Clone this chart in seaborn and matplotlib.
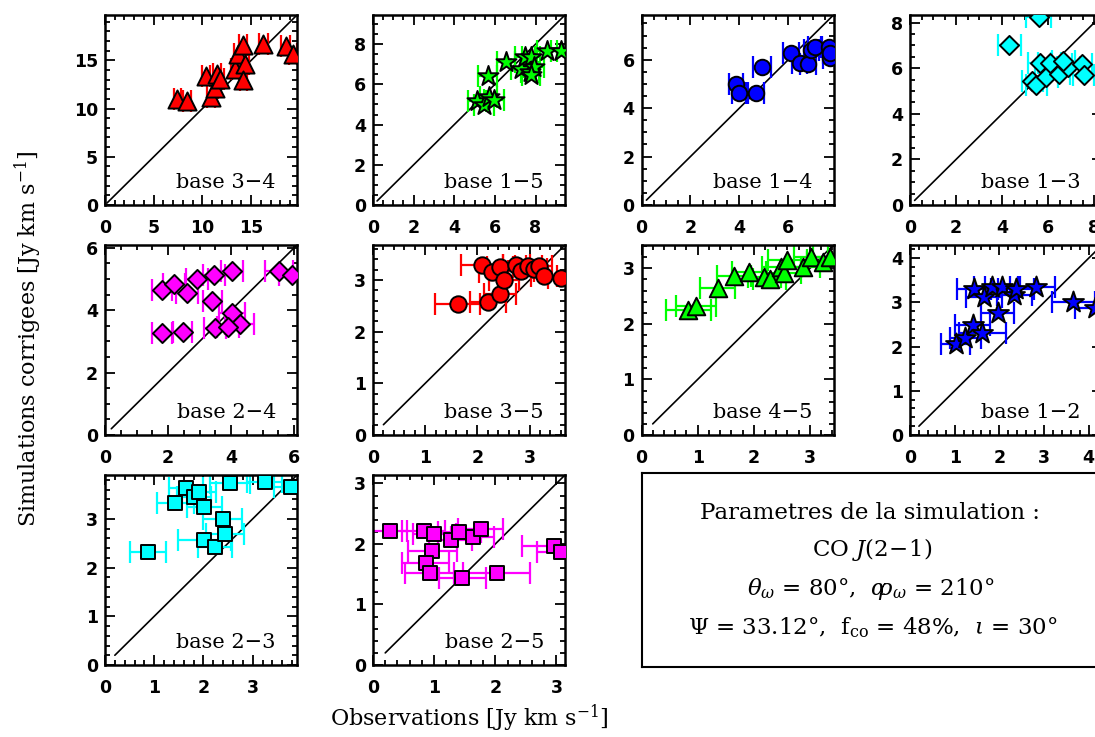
import matplotlib
matplotlib.use("Agg")
import matplotlib.pyplot as plt
import numpy as np
import pandas as pd
import seaborn as sns

# ---------------- data ----------------
# base 3-4
obs_34 = [7.42, 8.38, 10.33, 10.84, 11.28, 11.52, 11.80, 13.33, 13.60, 14.12, 14.36, 14.19, 16.24, 18.53, 19.30]
sim_34 = [10.94, 10.77, 13.35, 11.15, 12.08, 13.56, 13.04, 14.08, 15.70, 16.56, 14.67, 12.94, 16.74, 16.50, 15.70]
err_34 = [0.35, 0.40, 0.40, 0.40, 0.35, 0.40, 0.40, 0.40, 0.35, 0.40, 0.40, 0.35, 0.45, 0.45, 0.45]
# base 1-5
obs_15 = [5.12, 5.45, 5.64, 5.69, 5.94, 6.55, 7.30, 7.48, 7.76, 7.72, 7.92, 8.55, 9.24, 7.76]
sim_15 = [5.16, 4.98, 6.44, 5.36, 5.20, 7.13, 6.77, 7.34, 7.37, 6.60, 6.85, 7.67, 7.67, 6.46]
err_15 = [0.45, 0.50, 0.45, 0.40, 0.50, 0.45, 0.50, 0.50, 0.45, 0.45, 0.50, 0.50, 0.50, 0.45]
# base 1-4
obs_14 = [3.86, 3.99, 4.68, 4.92, 6.10, 6.47, 6.82, 6.95, 7.09, 7.67, 7.71, 7.71]
sim_14 = [5.00, 4.64, 4.62, 5.72, 6.27, 5.85, 5.83, 6.40, 6.54, 6.54, 6.06, 6.27]
err_14 = [0.28, 0.30, 0.32, 0.36, 0.32, 0.30, 0.32, 0.30, 0.30, 0.32, 0.30, 0.30]
# base 1-3
obs_13 = [4.31, 5.58, 5.31, 5.63, 5.48, 5.92, 6.07, 6.48, 6.87, 7.46, 7.53, 6.65]
sim_13 = [7.02, 8.26, 5.45, 6.24, 5.26, 5.63, 6.21, 5.75, 6.07, 6.17, 5.70, 6.30]
err_13 = [0.50, 0.55, 0.45, 0.50, 0.45, 0.50, 0.50, 0.45, 0.50, 0.45, 0.45, 0.50]
# base 2-4
obs_24 = [1.82, 2.19, 2.59, 2.92, 3.47, 3.40, 4.03, 1.82, 2.46, 3.49, 4.03, 4.27, 3.90, 5.52, 5.93]
sim_24 = [4.65, 4.83, 4.54, 4.99, 5.13, 4.29, 5.27, 3.28, 3.31, 3.42, 3.90, 3.56, 3.45, 5.27, 5.13]
err_24 = [0.32, 0.35, 0.35, 0.35, 0.35, 0.30, 0.35, 0.32, 0.30, 0.35, 0.40, 0.45, 0.35, 0.44, 0.40]
# base 3-5
obs_35 = [1.62, 2.09, 2.20, 2.29, 2.44, 2.44, 2.51, 2.75, 2.83, 2.98, 3.09, 3.19, 3.28, 3.61]
sim_35 = [2.53, 3.29, 2.58, 3.16, 3.26, 2.74, 3.00, 3.30, 3.18, 3.28, 3.22, 3.27, 3.08, 3.04]
err_35 = [0.44, 0.40, 0.35, 0.25, 0.25, 0.31, 0.28, 0.25, 0.25, 0.25, 0.25, 0.25, 0.25, 0.25]
# base 4-5
obs_45 = [0.83, 0.97, 1.36, 1.65, 1.92, 2.19, 2.28, 2.49, 2.54, 2.60, 2.88, 3.02, 3.24, 3.36]
sim_45 = [2.25, 2.33, 2.65, 2.87, 2.93, 2.85, 2.81, 3.02, 2.91, 3.15, 3.02, 3.20, 3.11, 3.20]
err_45 = [0.40, 0.36, 0.31, 0.30, 0.30, 0.30, 0.30, 0.35, 0.30, 0.35, 0.30, 0.30, 0.30, 0.30]
# base 1-2
obs_12 = [1.02, 1.24, 1.40, 1.62, 1.43, 1.66, 1.83, 1.96, 2.07, 2.34, 2.38, 2.83, 3.66, 4.15]
sim_12 = [2.07, 2.19, 2.49, 2.30, 3.30, 3.13, 3.34, 2.75, 3.34, 3.17, 3.30, 3.34, 3.02, 2.87]
err_12 = [0.32, 0.35, 0.40, 0.53, 0.38, 0.40, 0.40, 0.38, 0.40, 0.40, 0.40, 0.41, 0.49, 0.45]
# base 2-3
obs_23 = [0.87, 1.43, 1.64, 1.81, 1.91, 2.02, 2.39, 2.02, 2.23, 2.44, 2.54, 3.24, 3.78]
sim_23 = [2.32, 3.33, 3.63, 3.44, 3.55, 3.24, 3.00, 2.56, 2.43, 2.68, 3.73, 3.76, 3.66]
err_23 = [0.37, 0.37, 0.35, 0.35, 0.35, 0.35, 0.39, 0.53, 0.35, 0.39, 0.40, 0.35, 0.35]
# base 2-5
obs_25 = [0.27, 0.83, 1.00, 0.97, 0.86, 0.93, 1.27, 1.41, 1.63, 1.76, 1.46, 2.02, 2.96, 3.08]
sim_25 = [2.22, 2.22, 2.17, 1.88, 1.68, 1.52, 2.06, 2.20, 2.11, 2.25, 1.43, 1.52, 1.96, 1.86]
err_25 = [0.28, 0.35, 0.35, 0.40, 0.38, 0.40, 0.35, 0.35, 0.35, 0.37, 0.38, 0.55, 0.53, 0.40]

panel_labels = ["base 3\u22124", "base 1\u22125", "base 1\u22124", "base 1\u22123",
                "base 2\u22124", "base 3\u22125", "base 4\u22125", "base 1\u22122",
                "base 2\u22123", "base 2\u22125"]
axis_max = [19.7, 9.45, 7.85, 8.33, 6.09, 3.68, 3.42, 4.3, 3.9, 3.14]
major_step = [5, 2, 2, 2, 2, 1, 1, 1, 1, 1]
minor_step = [1, 0.5, 0.5, 0.5, 0.5, 0.2, 0.2, 0.2, 0.2, 0.2]

xlabel = "Observations [Jy km s$^{-1}$]"
ylabel = "Simulations corrigees [Jy km s$^{-1}$]"
box_lines = ["Parametres de la simulation :",
             r"CO $\mathit{J(2\!-\!1)}$",
             r"$\theta_\omega$ = 80°,  $\alpha\!\!\rho_\omega$ = 210°",
             r"$\Psi$ = 33.12°,  f$_{\mathrm{co}}$ = 48%,  $\iota$ = 30°"]

# ---------------- style ----------------
sns.set_style("ticks")
plt.rcParams["font.family"] = ["DejaVu Serif"]
plt.rcParams["mathtext.fontset"] = "dejavuserif"
plt.rcParams["text.color"] = "black"
plt.rcParams["axes.labelcolor"] = "black"
plt.rcParams["xtick.color"] = "black"
plt.rcParams["ytick.color"] = "black"

RED, GREEN, BLUE, CYAN, MAG = "#ff0000", "#00ff00", "#0000ff", "#00ffff", "#ff00ff"
series = [(obs_34, sim_34, err_34, "^", RED, 170),
          (obs_15, sim_15, err_15, "*", GREEN, 230),
          (obs_14, sim_14, err_14, "o", BLUE, 125),
          (obs_13, sim_13, err_13, "D", CYAN, 95),
          (obs_24, sim_24, err_24, "D", MAG, 95),
          (obs_35, sim_35, err_35, "o", RED, 140),
          (obs_45, sim_45, err_45, "^", GREEN, 160),
          (obs_12, sim_12, err_12, "*", BLUE, 250),
          (obs_23, sim_23, err_23, "s", CYAN, 100),
          (obs_25, sim_25, err_25, "s", MAG, 100)]

W, H = 1095, 737
fig = plt.figure(figsize=(W / 100, H / 100), dpi=100)
col_left = [105, 373, 641.5, 910]
row_top = [15, 245, 475]
aw, ah = 192, 190

for i, (obs, sim, err, mk, col, sz) in enumerate(series):
    r, c = divmod(i, 4)
    ax = fig.add_axes([col_left[c] / W, 1 - (row_top[r] + ah) / H, aw / W, ah / H])
    lim = axis_max[i]
    df = pd.DataFrame({"obs": obs, "sim": sim, "err": err})
    ax.plot([0.2, 100], [0.2, 100], color="black", lw=1.2, zorder=1)
    ax.errorbar(df["obs"], df["sim"], xerr=df["err"], fmt="none", ecolor=col,
                elinewidth=1.6, capsize=8, capthick=1.6, zorder=2)
    sns.scatterplot(data=df, x="obs", y="sim", ax=ax, marker=mk, s=sz, color=col,
                    edgecolor="black", linewidth=1.4, zorder=3, legend=False)
    ax.set_xlim(0, lim)
    ax.set_ylim(0, lim)
    maj = np.arange(0, lim + 1e-9, major_step[i])
    mnr = np.arange(0, lim + 1e-9, minor_step[i])
    ax.set_xticks(maj)
    ax.set_yticks(maj)
    ax.set_xticks(mnr, minor=True)
    ax.set_yticks(mnr, minor=True)
    ax.set_xticklabels([f"{v:g}" for v in maj])
    ax.set_yticklabels([f"{v:g}" for v in maj])
    ax.tick_params(which="both", direction="in", top=True, right=True,
                   colors="black", width=1.3)
    ax.tick_params(which="major", length=7)
    ax.tick_params(which="minor", length=3.5)
    ax.tick_params(axis="x", which="major", pad=10)
    ax.tick_params(axis="y", which="major", pad=5)
    for lab in ax.get_xticklabels() + ax.get_yticklabels():
        lab.set_family("DejaVu Sans")
        lab.set_fontweight("bold")
        lab.set_fontsize(12.5)
        lab.set_color("black")
    for sp in ax.spines.values():
        sp.set_linewidth(1.8)
        sp.set_color("black")
    ax.set_xlabel("")
    ax.set_ylabel("")
    ax.text(0.89, 0.12, panel_labels[i], transform=ax.transAxes, ha="right",
            va="center", fontsize=15, color="black")

# parameter box
bax = fig.add_axes([642 / W, 1 - 667 / H, 460 / W, 194 / H])
bax.set_xticks([])
bax.set_yticks([])
for sp in bax.spines.values():
    sp.set_linewidth(1.5)
    sp.set_color("black")
line_x = [870, 872, 871, 873]
line_base = [519, 556, 595, 634]
for txt, lx, ly in zip(box_lines, line_x, line_base):
    fig.text(lx / W, 1 - ly / H, txt, ha="center", va="baseline", fontsize=16.5,
             color="black")

fig.text(469 / W, 1 - 718 / H, xlabel, ha="center", va="center", fontsize=16, color="black")
fig.text(28 / W, 1 - 339 / H, ylabel, ha="center", va="center", rotation=90,
         fontsize=16, color="black")

fig.savefig("out.png", dpi=100, facecolor="white")
